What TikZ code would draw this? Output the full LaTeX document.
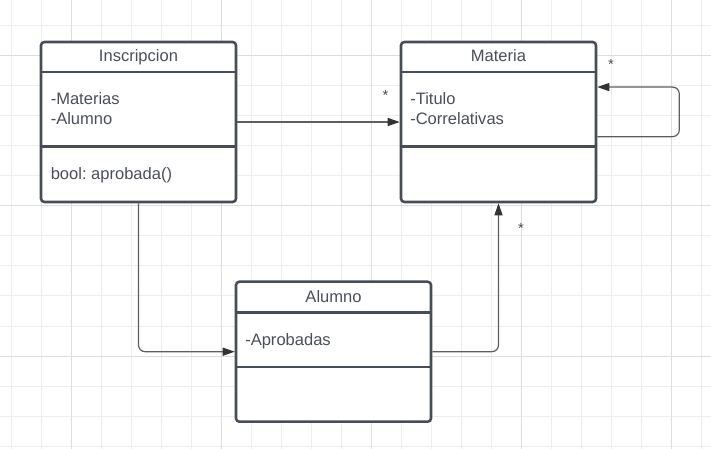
\documentclass[tikz,border=0pt]{standalone}
\usepackage{fontspec}
\setmainfont{Liberation Sans}
\usetikzlibrary{arrows.meta}
\frenchspacing
\definecolor{gridminor}{HTML}{EDEDED}
\definecolor{gridmajor}{HTML}{DDDDDD}
\definecolor{boxline}{HTML}{474D57}
\definecolor{txt}{HTML}{4A4F57}
\definecolor{connline}{HTML}{5E5E5E}
\definecolor{tipcol}{HTML}{333333}
\tikzset{
  classbox/.style={draw=boxline, line width=1.9pt, fill=white, rounded corners=2.5pt,
    minimum width=146.25pt, inner sep=0pt},
  divider/.style={draw=boxline, line width=1.9pt},
  title/.style={text=txt, font=\fontsize{12.4pt}{15pt}\selectfont, inner sep=0pt, anchor=base},
  attr/.style={text=txt, font=\fontsize{12.4pt}{15pt}\selectfont, inner sep=0pt, anchor=base west},
  conn/.style={draw=connline, line width=0.9pt, rounded corners=5pt,
    -{Triangle[length=9pt,width=6pt,color=tipcol]}},
  mult/.style={text=txt, font=\fontsize{11pt}{12pt}\selectfont, inner sep=0pt}
}
\begin{document}
\begin{tikzpicture}[x=0.75pt,y=-0.75pt]
\useasboundingbox (0,0) rectangle (711,449);
\fill[white] (0,0) rectangle (711,449);
% grid
\foreach \gx in {11.7,41.7,...,705}{\draw[gridminor, line width=0.75pt] (\gx,0) -- (\gx,449);}
\foreach \gy in {26,56,...,449}{\draw[gridminor, line width=0.75pt] (0,\gy) -- (711,\gy);}
\foreach \gx in {71.7,221.7,371.7,521.7,671.7}{\draw[gridmajor, line width=0.75pt] (\gx,0) -- (\gx,449);}
\foreach \gy in {56,206,356}{\draw[gridmajor, line width=0.75pt] (0,\gy) -- (711,\gy);}

% classes
\node[classbox, minimum height=120pt] (ins) at (138.5,122) {};
\node[classbox, minimum height=120pt] (mat) at (498.5,122) {};
\node[classbox, minimum height=105pt] (alu) at (333.5,351.7) {};

\draw[divider] ([yshift=-23.5pt]ins.north west) -- ([yshift=-23.5pt]ins.north east);
\draw[divider] ([yshift=-79.3pt]ins.north west) -- ([yshift=-79.3pt]ins.north east);
\draw[divider] ([yshift=-23.5pt]mat.north west) -- ([yshift=-23.5pt]mat.north east);
\draw[divider] ([yshift=-79.3pt]mat.north west) -- ([yshift=-79.3pt]mat.north east);
\draw[divider] ([yshift=-24.2pt]alu.north west) -- ([yshift=-24.2pt]alu.north east);
\draw[divider] ([yshift=-65pt]alu.north west) -- ([yshift=-65pt]alu.north east);

% texts
\node[title] (insT) at (138.5,62) {Inscripcion};
\node[attr] (insA1) at (50.5,105) {-Materias};
\node[attr] (insA2) at (50.5,125) {-Alumno};
\node[attr] (insM1) at (50.5,179.5) {bool: aprobada()};

\node[title] (matT) at (498.5,62) {Materia};
\node[attr] (matA1) at (410,105) {-Titulo};
\node[attr] (matA2) at (410,125) {-Correlativas};

\node[title] (aluT) at (333.5,302) {Alumno};
\node[attr] (aluA1) at (245,345) {-Aprobadas};

% connectors
\draw[conn] (ins.east) -- (mat.west);
\draw[conn] (ins.south) |- (alu.west);
\draw[conn] (alu.east) -| (mat.south);
\coordinate (loopS) at ([yshift=-11pt]mat.east);
\coordinate (loopE) at ([yshift=26.2pt]mat.east);
\draw[conn] (loopS) -- ++(82,0) |- (loopE);

% multiplicities
\node[mult] (m1) at (385.5,95) {*};
\node[mult] (m2) at (611,64.5) {*};
\node[mult] (m3) at (521,228.5) {*};
\end{tikzpicture}
\end{document}
